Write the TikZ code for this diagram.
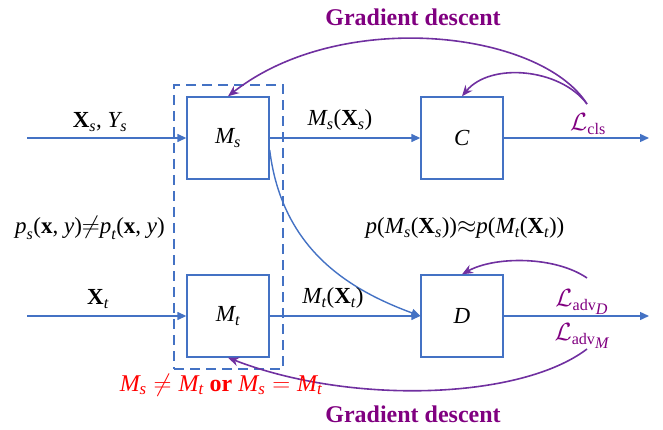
\documentclass[tikz,border=0pt]{standalone}
\usepackage{amsmath}
\usepackage{fontspec}
\setmainfont{Liberation Serif}
\usetikzlibrary{arrows.meta}
\definecolor{oblue}{HTML}{4472C4}
\definecolor{opurple}{HTML}{7030A0}
\definecolor{tpurple}{HTML}{800080}
\newcommand{\iv}[1]{\textit{#1}}
\newcommand{\bv}[1]{\textbf{#1}}
\newcommand{\tp}[1]{\text{#1}}
\begin{document}
\begin{tikzpicture}[x=1pt,y=-1pt,
  blk/.style={draw=oblue,line width=1.4pt,minimum width=82pt,minimum height=82pt,inner sep=0pt,font=\fontsize{23}{27}\selectfont},
  barrow/.style={draw=oblue,line width=1.4pt,-{Triangle[length=9pt,width=8pt]}},
  parrow/.style={draw=opurple,line width=1.6pt,-{Stealth[length=11pt,width=9pt]}},
  lbl/.style={font=\fontsize{23}{27}\selectfont,inner sep=0pt},
  glbl/.style={font=\fontsize{24}{28}\selectfont\bfseries,text=tpurple,inner sep=0pt},
  llbl/.style={font=\fontsize{23}{27}\selectfont,text=tpurple,inner sep=0pt}]
\useasboundingbox (0,0) rectangle (663,430);
\node[blk] (Ms) at (228,138) {$\iv{M}_{\iv{s}}$};
\node[blk] (Mt) at (228,316) {$\iv{M}_{\iv{t}}$};
\node[blk] (C) at (462,138) {\iv{C}};
\node[blk] (D) at (462,316) {\iv{D}};
\node[draw=oblue,line width=1.4pt,dash pattern=on 10pt off 6pt,minimum width=109pt,minimum height=284pt,inner sep=0pt] (box) at (228.5,227) {};
\coordinate (inS) at (27,138);
\coordinate (inT) at (27,316);
\coordinate (outC) at (649,138);
\coordinate (outD) at (649,316);
\coordinate (g1) at (587,104);
\coordinate (g2) at (587,278);
\coordinate (g3) at (587,349);
\draw[barrow] (inS) -- (Ms);
\draw[barrow] (inT) -- (Mt);
\draw[barrow] (Ms) -- (C);
\draw[barrow] (Mt) -- (D);
\draw[barrow] (C) -- (outC);
\draw[barrow] (D) -- (outD);
\draw[barrow] ([yshift=-12pt]Ms.east) .. controls (282,250) and (350,290) .. (D.west);
\draw[parrow] (g1) .. controls (540,30) and (340,8) .. (Ms.north);
\draw[parrow] (g1) .. controls (560,68) and (490,62) .. (C.north);
\draw[parrow] (g2) .. controls (555,256) and (495,256) .. (D.north);
\draw[parrow] (g3) .. controls (520,400) and (350,405) .. (Mt.south);
\node[lbl] (t1) at (100,122) {$\bv{X}_{\iv{s}}\tp{, }\iv{Y}_{\iv{s}}$};
\node[lbl] (t2) at (98,299) {$\bv{X}_{\iv{t}}$};
\node[lbl] (t3) at (90,228) {$\iv{p}_{\iv{s}}\tp{(}\bv{x}\tp{, }\iv{y}\tp{)}{\neq}\iv{p}_{\iv{t}}\tp{(}\bv{x}\tp{, }\iv{y}\tp{)}$};
\node[lbl] (t4) at (340,120) {$\iv{M}_{\iv{s}}\tp{(}\bv{X}_{\iv{s}}\tp{)}$};
\node[lbl] (t5) at (333,298) {$\iv{M}_{\iv{t}}\tp{(}\bv{X}_{\iv{t}}\tp{)}$};
\node[lbl] (t6) at (465,228) {$\iv{p}\tp{(}\iv{M}_{\iv{s}}\tp{(}\bv{X}_{\iv{s}}\tp{))}{\approx}\iv{p}\tp{(}\iv{M}_{\iv{t}}\tp{(}\bv{X}_{\iv{t}}\tp{))}$};
\node[llbl] (t7) at (588,124) {$\mathcal{L}_{\tp{cls}}$};
\node[llbl] (t8) at (582,302) {$\mathcal{L}_{\tp{adv}_{\scriptstyle\iv{D}}}$};
\node[llbl] (t9) at (582,336) {$\mathcal{L}_{\tp{adv}_{\scriptstyle\iv{M}}}$};
\node[lbl,text=red,font=\fontsize{24}{28}\selectfont] (t10) at (221,385) {$\iv{M}_{\iv{s}} \neq \iv{M}_{\iv{t}}$ \textbf{or} $\iv{M}_{\iv{s}} = \iv{M}_{\iv{t}}$};
\node[glbl] (g1t) at (413,17) {Gradient descent};
\node[glbl] (g2t) at (413,414) {Gradient descent};
\end{tikzpicture}
\end{document}
